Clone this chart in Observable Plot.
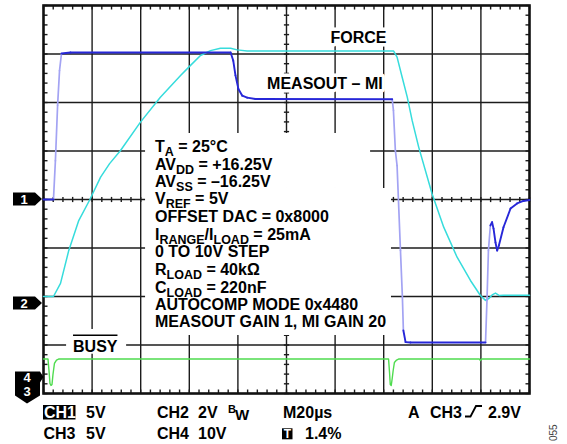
<!DOCTYPE html>
<html><head><meta charset="utf-8">
<script src="https://cdn.jsdelivr.net/npm/d3@7"></script>
<script src="https://cdn.jsdelivr.net/npm/@observablehq/plot@0.6"></script>
<style>
body{margin:0;background:#fff;}
#chart svg{display:block;}
</style>
</head><body><div id="chart"></div>
<script>
const FONT = "'Liberation Sans', Arial, Helvetica, sans-serif";

// ---- scope set-up: 20 µs/div horizontally, 10 divisions; 8 vertical divisions
const timeDomain = [0, 200];
const divDomain = [-4, 4];
const majorTimes = d3.range(0, 201, 20);
const majorDivs = d3.range(-4, 5, 1);
const minorTimes = d3.range(0, 200.01, 4);
const minorDivs = d3.range(-4, 4.001, 0.2);

// channel settings (V/div and ground offset in divisions)
const ch1Scale = 5,  ch1Offset = 0;     // MEASOUT – MI (blue)
const ch2Scale = 2,  ch2Offset = -2;    // FORCE (cyan)
const ch4Scale = 10, ch4Offset = -3.7;  // BUSY (green)

// ---- CH1 MEASOUT – MI trace (time µs, volts)
const ch1Time  = [0, 4.1, 4.9, 5.8, 6.6, 7.4, 11.1, 77.0, 78.1, 79.0, 80.2, 81.8, 83.8, 87.2, 143.5, 144.0, 144.8, 145.5, 146.9, 147.7, 148.1, 149.0, 151.0, 181.9, 182.5, 183.1, 183.9, 184.6, 185.2, 186.0, 186.7, 187.4, 189.3, 192.2, 194.9, 197.5, 200];
const ch1Volts = [0, 0, 4.0, 9.7, 13.3, 15.05, 15.15, 15.15, 14.3, 12.8, 11.4, 10.7, 10.5, 10.36, 10.34, 9.2, 5.05, 3.5, -5.26, -10.1, -13.5, -14.7, -14.74, -14.74, -10.4, -5.26, -2.68, -2.34, -3.0, -4.43, -5.26, -4.74, -2.86, -0.93, -0.41, -0.15, -0.05];

// ---- CH2 FORCE trace
const ch2Time  = [0, 4.1, 7.0, 10.4, 14.5, 19.1, 23.5, 27.2, 31.7, 39.9, 48.1, 56.4, 60.5, 64.6, 68.7, 72.8, 77.0, 79.7, 83.8, 144.1, 145.5, 147.6, 149.7, 151.7, 154.4, 159.9, 164.7, 170.2, 175.7, 179.8, 181.9, 183.2, 184.8, 186.0, 187.6, 189.3, 200];
const ch2Volts = [0, 0, 0.54, 1.90, 3.13, 4.0, 4.92, 5.48, 6.02, 7.19, 8.22, 9.11, 9.53, 9.94, 10.14, 10.24, 10.24, 10.17, 10.12, 10.12, 9.87, 9.04, 8.22, 7.26, 6.16, 4.24, 2.86, 1.62, 0.66, 0.04, -0.16, -0.09, 0.08, 0.14, 0.04, 0.05, 0.05];

// ---- CH4 BUSY trace
const ch4Time  = [0, 1.85, 2.26, 2.67, 3.09, 3.5, 3.9, 4.5, 5.35, 6.2, 142.0, 142.4, 142.7, 143.1, 143.5, 143.9, 144.4, 145.3, 146.1, 179.4, 179.8, 180.3, 200];
const ch4Volts = [4.1, 4.1, 1.74, -0.94, -1.35, -1.14, 0.92, 3.19, 3.9, 4.1, 4.1, 1.33, -1.14, -1.35, 0.09, 1.74, 3.39, 3.9, 4.1, 4.1, 3.8, 4.1, 4.1];

// ---- annotation texts
const traceLabels = ["FORCE", "MEASOUT – MI"];
const busyLabel = "BUSY";
const specLines = [
  [["T"], ["A", "sub"], [" = 25°C"]],
  [["AV"], ["DD", "sub"], [" = +16.25V"]],
  [["AV"], ["SS", "sub"], [" = –16.25V"]],
  [["V"], ["REF", "sub"], [" = 5V"]],
  [["OFFSET DAC = 0x8000"]],
  [["I"], ["RANGE", "sub"], ["/I"], ["LOAD", "sub"], [" = 25mA"]],
  [["0 TO 10V STEP"]],
  [["R"], ["LOAD", "sub"], [" = 40kΩ"]],
  [["C"], ["LOAD", "sub"], [" = 220nF"]],
  [["AUTOCOMP MODE 0x4480"]],
  [["MEASOUT GAIN 1, MI GAIN 20"]]
];
const figureId = "055";

// ---- build tables
const toDiv = (scale, off) => (v) => off + v / scale;
const ch1 = ch1Time.map((t, i) => ({t, d: toDiv(ch1Scale, ch1Offset)(ch1Volts[i])}));
const ch2 = ch2Time.map((t, i) => ({t, d: toDiv(ch2Scale, ch2Offset)(ch2Volts[i])}));
const ch4 = ch4Time.map((t, i) => ({t, d: toDiv(ch4Scale, ch4Offset)(ch4Volts[i])}));

const pxPerUs = 486 / 200, pxPerDiv = 388 / 8;
const ch1Segs = d3.pairs(ch1).map(([a, b]) => {
  const slope = Math.abs((b.d - a.d) * pxPerDiv) / Math.max(1e-6, (b.t - a.t) * pxPerUs);
  return {t1: a.t, d1: a.d, t2: b.t, d2: b.d, fast: slope > 8};
});

// tick marks
const tx = 4 / pxPerUs, ty = 4 / pxPerDiv, cx = 2.6 / pxPerUs, cy = 2.6 / pxPerDiv;
const ticks = [
  ...minorTimes.map(t => ({t1: t, t2: t, d1: 4, d2: 4 - ty})),
  ...minorTimes.map(t => ({t1: t, t2: t, d1: -4, d2: -4 + ty})),
  ...minorDivs.map(d => ({t1: 0, t2: tx, d1: d, d2: d})),
  ...minorDivs.map(d => ({t1: 200, t2: 200 - tx, d1: d, d2: d})),
  ...minorTimes.map(t => ({t1: t, t2: t, d1: -cy, d2: cy})),
  ...minorDivs.map(d => ({t1: 100 - cx, t2: 100 + cx, d1: d, d2: d}))
];

// white panels behind annotation text
const panels = [
  {t1: 42.0, t2: 134.6, d1: 1.361, d2: 0.227},
  {t1: 42.0, t2: 143.2, d1: 0.227, d2: -2.804},
  {t1: 9.5, t2: 34.2, d1: -2.68, d2: -3.19}
];

const BLUE = "#2727d8", BLUE_LIGHT = "#a3a3f3", CYAN = "#36dcdc", GREEN = "#4fdc4f", GRID = "#1c1c1c";

const plot = Plot.plot({
  width: 567, height: 444,
  marginLeft: 43, marginRight: 38, marginTop: 5, marginBottom: 51,
  x: {domain: timeDomain, axis: null},
  y: {domain: divDomain, axis: null},
  style: {fontFamily: FONT, background: "white", overflow: "visible"},
  marks: [
    Plot.ruleX(majorTimes.slice(1, -1), {stroke: GRID, strokeWidth: 1.4}),
    Plot.ruleY(majorDivs.slice(1, -1), {stroke: GRID, strokeWidth: 1.4}),
    Plot.link(ticks, {x1: "t1", x2: "t2", y1: "d1", y2: "d2", stroke: GRID, strokeWidth: 1.4}),
    Plot.rect(panels, {x1: "t1", x2: "t2", y1: "d1", y2: "d2", fill: "white"}),
    Plot.frame({stroke: "#111", strokeWidth: 2.6}),
    Plot.line(ch4, {x: "t", y: "d", stroke: GREEN, strokeWidth: 1.4}),
    Plot.line(ch2, {x: "t", y: "d", stroke: CYAN, strokeWidth: 1.5}),
    Plot.link(ch1Segs.filter(s => s.fast), {x1: "t1", x2: "t2", y1: "d1", y2: "d2", stroke: BLUE_LIGHT, strokeWidth: 1.7, strokeLinecap: "round"}),
    Plot.link(ch1Segs.filter(s => !s.fast), {x1: "t1", x2: "t2", y1: "d1", y2: "d2", stroke: BLUE, strokeWidth: 1.9, strokeLinecap: "round"})
  ]
});
document.getElementById("chart").appendChild(plot);

const X = plot.scale("x").apply, Y = plot.scale("y").apply;
const svg = d3.select(plot);
const g = svg.append("g").attr("font-family", FONT).attr("font-weight", "bold")
  .attr("fill", "#000").attr("text-anchor", "start");

// trace labels with white halo
const labelPos = [{t: 129.8, d: 3.216}, {t: 116.0, d: 2.262}];
traceLabels.forEach((s, i) => {
  g.append("text").attr("x", X(labelPos[i].t)).attr("y", Y(labelPos[i].d))
    .attr("text-anchor", "middle").attr("font-size", 16)
    .attr("stroke", "white").attr("stroke-width", 7).attr("paint-order", "stroke").attr("stroke-linejoin", "round")
    .text(s);
});

// BUSY with overline
const busyX = X(21.5), busyY = Y(-3.148);
const busyText = g.append("text").attr("x", busyX).attr("y", busyY).attr("text-anchor", "middle").attr("font-size", 16).text(busyLabel);
const bw = busyText.node().getComputedTextLength();
g.append("line").attr("x1", busyX - bw / 2).attr("x2", busyX + bw / 2)
  .attr("y1", busyY - 16.4).attr("y2", busyY - 16.4).attr("stroke", "#000").attr("stroke-width", 1.6);

// spec block
const specBase = [152.3, 170, 186.7, 204, 222, 240, 257.3, 275.3, 292.7, 310, 327.3];
specLines.forEach((parts, i) => {
  const tEl = g.append("text").attr("x", 155).attr("y", specBase[i]).attr("font-size", 16).attr("text-anchor", "start");
  parts.forEach(([s, kind]) => {
    const sp = tEl.append("tspan").text(s);
    if (kind === "sub") sp.attr("font-size", 12.5).attr("y", specBase[i] + 4);
    else sp.attr("y", specBase[i]);
  });
});

// channel ground markers
function arrowMarker(cyPix, label) {
  g.append("path").attr("d", `M13,${cyPix - 6.5}H35L42,${cyPix}L35,${cyPix + 6.5}H13Z`).attr("fill", "#000");
  g.append("text").attr("x", 24).attr("y", cyPix + 4.6).attr("text-anchor", "middle")
    .attr("font-size", 13).attr("fill", "white").text(label);
}
arrowMarker(Y(ch1Offset), "1");
arrowMarker(303, "2");
const m4 = Y(ch4Offset);
g.append("path").attr("d", `M15,${m4 - 7}H40L43.5,${m4 - 1.5}L40,${m4 + 4}V${m4 + 17}L27,${m4 + 25}L15,${m4 + 17}Z`).attr("fill", "#000");
g.append("text").attr("x", 27).attr("y", m4 + 3.5).attr("text-anchor", "middle").attr("font-size", 13).attr("fill", "white").text("4");
g.append("text").attr("x", 27).attr("y", m4 + 18).attr("text-anchor", "middle").attr("font-size", 13).attr("fill", "white").text("3");

// scope settings readout
const r1 = 417.5, r2 = 439;
g.append("rect").attr("x", 43).attr("y", 405).attr("width", 32.5).attr("height", 14.5).attr("fill", "#000");
const readout = [
  ["CH1", 44, r1, 16, "white"], ["5V", 86, r1, 16], ["CH2", 157, r1, 16], ["2V", 198, r1, 16],
  ["B", 228, 413, 11], ["W", 235, 419.5, 15], ["M20µs", 283, r1, 16],
  ["A", 408, r1, 16], ["CH3", 430, r1, 16], ["2.9V", 488, r1, 16],
  ["CH3", 43.5, r2, 16], ["5V", 86, r2, 16], ["CH4", 157, r2, 16], ["10V", 198, r2, 16], ["1.4%", 305, r2, 16]
];
readout.forEach(([s, x, y, fs, fill]) => {
  g.append("text").attr("x", x).attr("y", y).attr("font-size", fs).attr("text-anchor", "start")
    .attr("fill", fill || "#000").text(s);
});
g.append("rect").attr("x", 282).attr("y", 428.3).attr("width", 10.5).attr("height", 11).attr("fill", "#000");
g.append("text").attr("x", 287.3).attr("y", 438).attr("text-anchor", "middle").attr("font-size", 12).attr("fill", "white").text("T");
g.append("path").attr("d", "M465,416.5H470.5L476,406H482").attr("fill", "none").attr("stroke", "#000").attr("stroke-width", 1.8);

// figure id
svg.append("text").attr("transform", "translate(557,441) rotate(-90)").attr("text-anchor", "start")
  .attr("font-family", FONT).attr("font-size", 10).attr("fill", "#444").text(figureId);
</script>
</body></html>
